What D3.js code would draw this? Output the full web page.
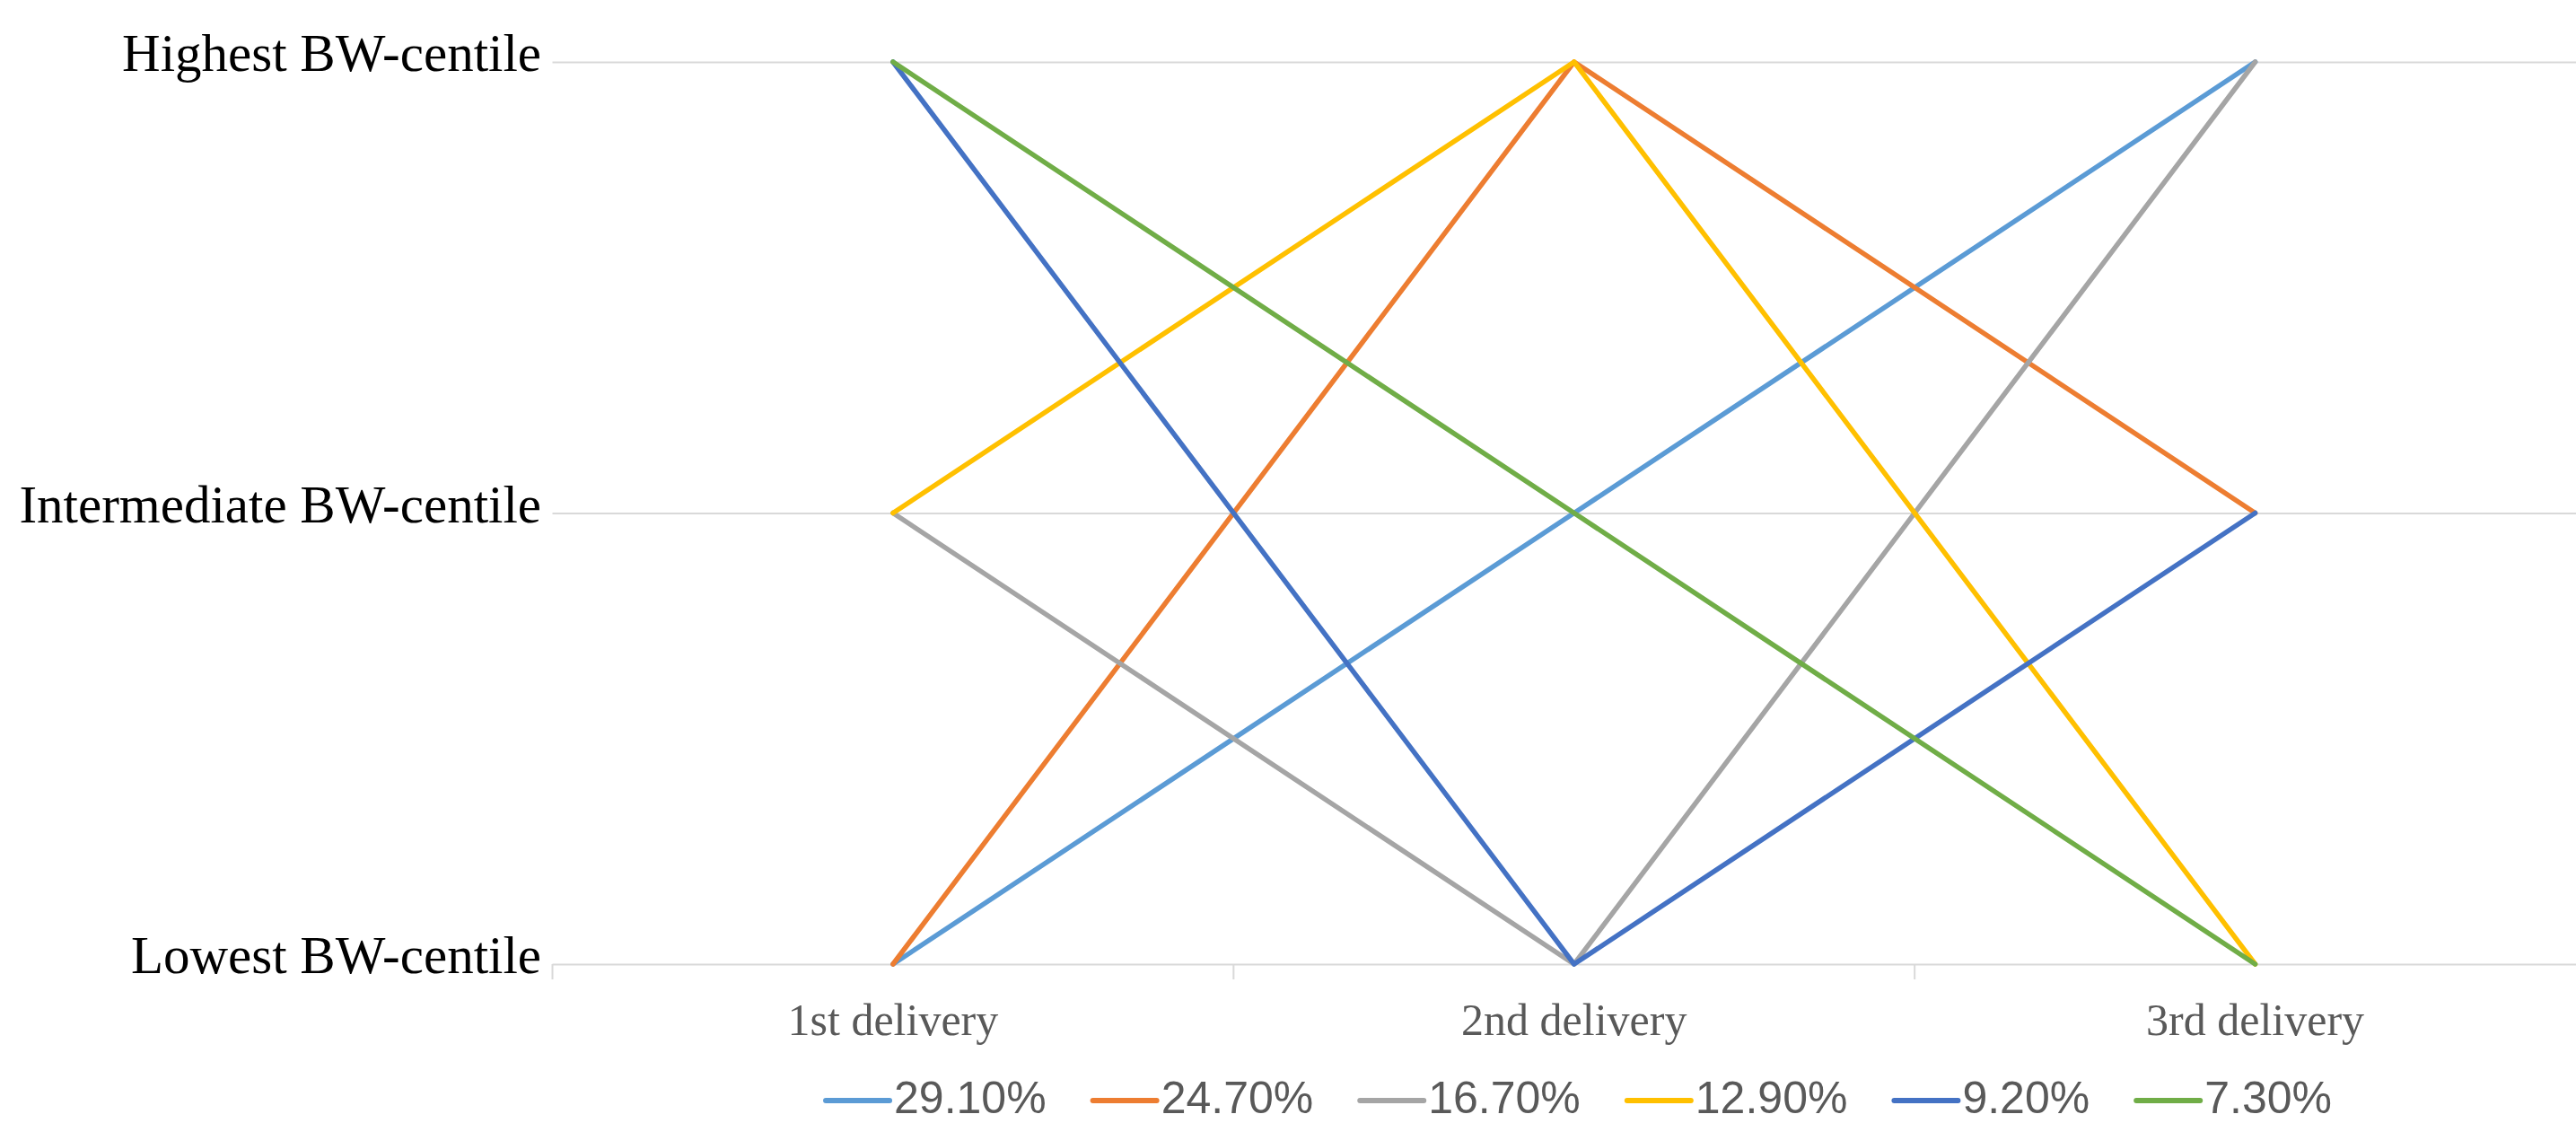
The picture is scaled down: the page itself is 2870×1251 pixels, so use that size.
<!DOCTYPE html>
<html>
<head>
<meta charset="utf-8">
<script src="https://cdn.jsdelivr.net/npm/d3@7"></script>
<style>
  html, body { margin: 0; padding: 0; background: #fff; overflow: hidden; }
  svg { display: block; }
</style>
</head>
<body>
<svg id="chart" width="2870" height="1251"></svg>
<script>
// Birth-weight centile trajectory across three deliveries
const categories = ["1st delivery", "2nd delivery", "3rd delivery"];
const levelLabels = ["Lowest BW-centile", "Intermediate BW-centile", "Highest BW-centile"];
const levelValues = [1, 2, 3];

// Each series: share of mothers following the pattern (legend) and centile level per delivery
const seriesNames = ["29.10%", "24.70%", "16.70%", "12.90%", "9.20%", "7.30%"];
const s1 = [1, 2, 3];
const s2 = [1, 3, 2];
const s3 = [2, 1, 3];
const s4 = [2, 3, 1];
const s5 = [3, 1, 2];
const s6 = [3, 2, 1];
const seriesValues = [s1, s2, s3, s4, s5, s6];
const seriesColors = ["#5B9BD5", "#ED7D31", "#A5A5A5", "#FFC000", "#4472C4", "#70AD47"];

const svg = d3.select("#chart");

const plot = { left: 615.5, right: 2892, top: 69, bottom: 1074 };

const x = d3.scaleBand().domain(categories).range([plot.left, plot.right]).padding(0);
const xc = c => x(c) + x.bandwidth() / 2;
const y = d3.scaleLinear().domain([1, 3]).range([plot.bottom, plot.top]);

const gridColor = "#D9D9D9";

// horizontal gridlines (the lowest one doubles as the category axis)
const gGrid = svg.append("g")
  .attr("transform", `translate(${plot.left},0)`)
  .call(d3.axisLeft(y).tickValues(levelValues).tickSize(-(plot.right - plot.left)).tickFormat(""));
gGrid.select(".domain").remove();
gGrid.selectAll(".tick line").attr("stroke", gridColor).attr("stroke-width", 2);

// category axis tick marks at band boundaries
const boundaries = categories.map(c => x(c)).concat([x(categories[categories.length - 1]) + x.bandwidth()]);
svg.append("g").selectAll("line").data(boundaries).join("line")
  .attr("x1", d => d).attr("x2", d => d)
  .attr("y1", plot.bottom).attr("y2", plot.bottom + 17)
  .attr("stroke", gridColor).attr("stroke-width", 2);

// category labels
svg.append("g").selectAll("text").data(categories).join("text")
  .attr("x", d => xc(d))
  .attr("y", 1153)
  .attr("text-anchor", "middle")
  .attr("font-family", "'Liberation Serif', 'Times New Roman', serif")
  .attr("font-size", 50)
  .attr("fill", "#595959")
  .text(d => d);

// level labels on the left
svg.append("g").selectAll("text").data(levelValues).join("text")
  .attr("x", 603)
  .attr("y", d => y(d) + 10)
  .attr("text-anchor", "end")
  .attr("font-family", "'Liberation Serif', 'Times New Roman', serif")
  .attr("font-size", 59)
  .attr("fill", "#000")
  .text((d, i) => levelLabels[i]);

// series lines
const line = d3.line()
  .x((d, i) => xc(categories[i]))
  .y(d => y(d));

svg.append("g").selectAll("path").data(seriesValues).join("path")
  .attr("d", d => line(d))
  .attr("fill", "none")
  .attr("stroke", (d, i) => seriesColors[i])
  .attr("stroke-width", 5.5)
  .attr("stroke-linejoin", "round")
  .attr("stroke-linecap", "round");

// legend
const legend = svg.append("g");
const swatchLen = 71, swatchGap = 5, itemGap = 52;
let cursor = 0;
seriesNames.forEach((name, i) => {
  const g = legend.append("g");
  g.append("line")
    .attr("x1", 0).attr("x2", swatchLen)
    .attr("y1", 0).attr("y2", 0)
    .attr("stroke", seriesColors[i])
    .attr("stroke-width", 6)
    .attr("stroke-linecap", "round");
  const t = g.append("text")
    .attr("x", swatchLen + swatchGap)
    .attr("y", 14)
    .attr("font-family", "'Liberation Sans', Arial, sans-serif")
    .attr("font-size", 50)
    .attr("fill", "#595959")
    .text(name);
  const w = swatchLen + swatchGap + t.node().getComputedTextLength();
  g.attr("transform", `translate(${cursor},0)`);
  cursor += w + itemGap;
});
const totalW = cursor - itemGap;
legend.attr("transform", `translate(${1759 - totalW / 2},1226)`);
</script>
</body>
</html>
